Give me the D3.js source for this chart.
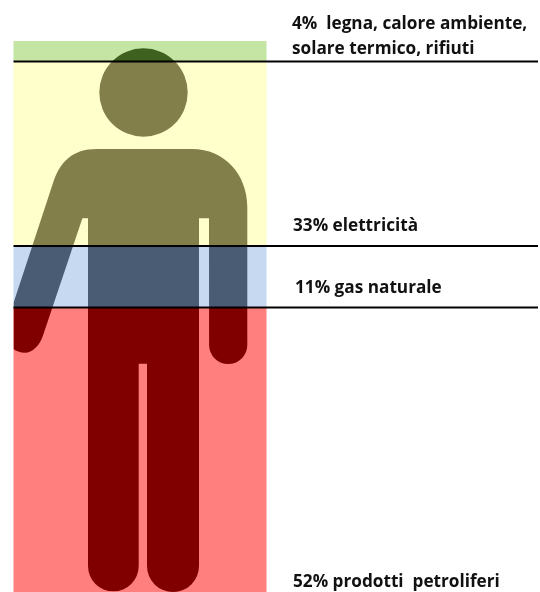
<!DOCTYPE html>
<html>
<head>
<meta charset="utf-8">
<script src="https://cdnjs.cloudflare.com/ajax/libs/d3/7.8.5/d3.min.js"></script>
<style>
html, body { margin: 0; padding: 0; background: #fff; }
svg { display: block; filter: blur(0.4px); }
.label { font-family: "Open Sans", sans-serif; font-weight: 700; font-size: 17.2px; fill: #111; white-space: pre; }
</style>
</head>
<body>
<svg id="chart" width="540" height="592"></svg>
<script>
// shares top to bottom
const sources = ["altre", "elettricita", "gas", "petrolio"];
const shares = [4, 33, 11, 52];
const labels = [
    ["4%  legna, calore ambiente,", "solare termico, rifiuti"],
    ["33% elettricità"],
    ["11% gas naturale"],
    ["52% prodotti  petroliferi"]
];
const bandColors = ["#c4e5a4", "#ffffcc", "#c6d9f1", "#ff7f7f"];
const figureColors = ["#3f6120", "#837f4b", "#4a5b74", "#800000"];

const svg = d3.select("#chart");
const left = 13.5, right = 266.5, lineEnd = 538;

// stacked bands, the picture is not quite proportional so the scale is piecewise
let stacked = [];
let sum = 0;
shares.forEach((d, i) => {
    stacked.push({ key: sources[i], i: i, y0: sum, y1: sum + d });
    sum += d;
});
let y = d3.scaleLinear()
    .domain([0, 4, 37, 48, 100])
    .range([41, 61.5, 246, 307.5, 592]);

// silhouette, clipped to the bands
let man = d3.path();
man.moveTo(187.7, 92.5);
man.arc(143.5, 92.5, 44.2, 0, 2 * Math.PI);
man.closePath();
man.moveTo(97, 149);
man.lineTo(192, 149);
man.bezierCurveTo(225, 149, 247.3, 175, 247.3, 207);
man.lineTo(247.3, 345);
man.arc(228.2, 345, 19.1, 0, Math.PI);
man.lineTo(209, 218.3);
man.lineTo(199, 218.3);
man.lineTo(199, 566);
man.arc(173, 566, 26, 0, Math.PI);
man.lineTo(147, 363.7);
man.lineTo(138.7, 363.7);
man.lineTo(138.7, 566);
man.arc(113.35, 566, 25.35, 0, Math.PI);
man.lineTo(88, 218.3);
man.lineTo(82.4, 218.3);
man.lineTo(43.5, 334);
man.bezierCurveTo(40, 346, 32, 352.7, 25, 352.7);
man.bezierCurveTo(20, 352.7, 16, 351, 13.5, 349);
man.lineTo(13.5, 303);
man.lineTo(53, 183);
man.bezierCurveTo(60, 162, 72, 149, 97, 149);
man.closePath();

svg.append("defs").append("clipPath")
    .attr("id", "man-clip")
    .append("path")
    .attr("d", man.toString());

svg.append("g").selectAll("rect")
    .data(stacked)
    .enter().append("rect")
    .attr("x", left)
    .attr("y", d => y(d.y0))
    .attr("width", right - left)
    .attr("height", d => y(d.y1) - y(d.y0))
    .attr("fill", d => bandColors[d.i]);

svg.append("g").attr("clip-path", "url(#man-clip)").selectAll("rect")
    .data(stacked)
    .enter().append("rect")
    .attr("x", left)
    .attr("y", d => y(d.y0))
    .attr("width", right - left)
    .attr("height", d => y(d.y1) - y(d.y0))
    .attr("fill", d => figureColors[d.i]);

// divider lines under the first three bands
svg.append("g").selectAll("line")
    .data(stacked.slice(0, 3))
    .enter().append("line")
    .attr("x1", left)
    .attr("x2", lineEnd)
    .attr("y1", d => y(d.y1))
    .attr("y2", d => y(d.y1))
    .attr("stroke", "#000")
    .attr("stroke-width", 2);

// labels sit just above the bottom of each band
let label_x = [292, 293, 295, 293];
let label_gap = [8, 15, 15, 5];
let line_h = 25;
let label_g = svg.append("g");
labels.forEach((lines, i) => {
    let base = y(stacked[i].y1) - label_gap[i];
    lines.forEach((t, j) => {
        label_g.append("text")
            .attr("class", "label")
            .attr("x", label_x[i])
            .attr("y", base - (lines.length - 1 - j) * line_h)
            .text(t);
    });
});
</script>
</body>
</html>
